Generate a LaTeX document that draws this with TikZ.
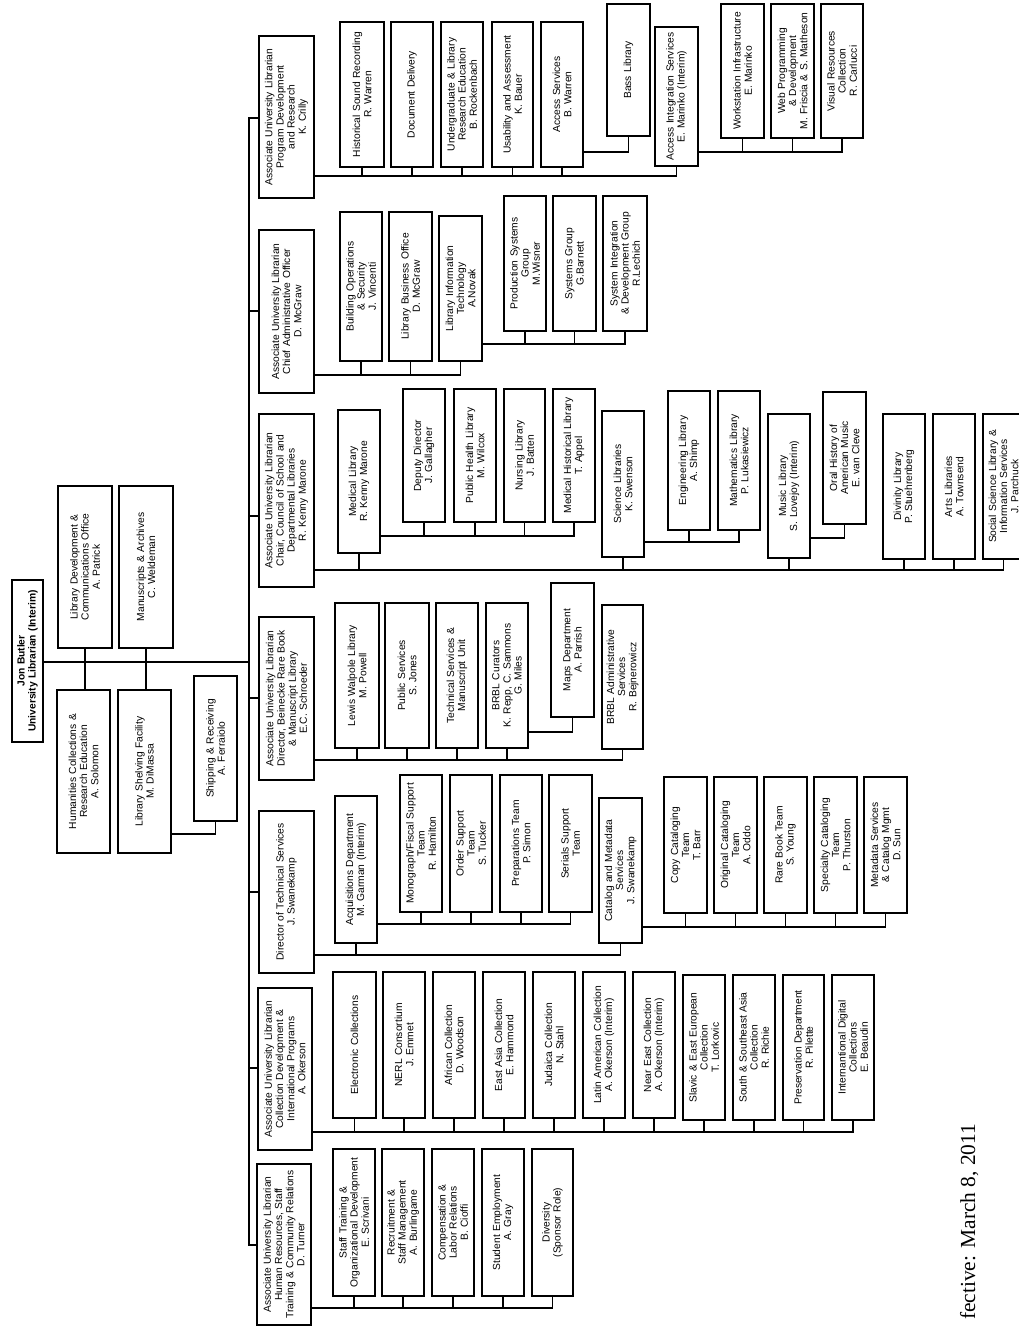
\documentclass[tikz,border=0pt]{standalone}
\usepackage{fontspec}
\setmainfont{Liberation Sans}
\newfontfamily\footserif{Liberation Serif}
\newcommand\bx[6]{%
  \pgfmathsetmacro\bxW{#5-#3}%
  \pgfmathsetmacro\bxH{#4-#2}%
  \pgfmathsetmacro\bxT{#5-#3-6}%
  \pgfmathsetmacro\bxX{(#2+#4)/2}%
  \pgfmathsetmacro\bxY{(#3+#5)/2}%
  \node[box, minimum width=\bxW bp, minimum height=\bxH bp, text width=\bxT bp] (#1) at (\bxX,\bxY) {#6};}
\newcommand\grp[4]{%
  \coordinate (b-#1) at (0,#2);
  \draw[ln] (#1.south |- b-#1) -- (#3.west |- b-#1);
  \foreach \c in {#4} {\draw[ln] (\c.west) -- (\c.west |- b-#1);}}
\newcommand\stub[2]{%
  \coordinate (s-#1) at (249,#2);
  \draw[ln] (s-#1) -- (#1.north |- s-#1);}
\newcommand\elbow[3]{%
  \coordinate (e-#1) at (0,#3);
  \draw[ln] (#1.south |- e-#1) -- (#2.west |- e-#1) -- (#2.west);}
\begin{document}
\begin{tikzpicture}[x=1bp,y=-1bp,
  box/.style={draw=black, line width=1.2bp, rotate=90, inner sep=0pt, align=center,
    font=\fontsize{10.3}{11.2}\selectfont},
  ln/.style={line width=1.2bp, line cap=rect}]
\fill[white] (0,0) rectangle (1018,1327);
\useasboundingbox (0,0) rectangle (1018,1327);

% top level
\bx{jon}{12}{580}{43}{742}{\textbf{Jon Butler}\\\textbf{University Librarian (Interim)}}
\bx{libdev}{58}{486}{112}{648}{Library Development \&\\Communications Office\\A. Patrick}
\bx{manu}{119}{486}{173}{648}{Manuscripts \& Archives\\C. Weldeman}
\bx{hum}{57}{690}{110}{853}{Humanities Collections \&\\Research Education\\A. Solomon}
\bx{shelv}{118}{690}{171}{853}{Library Shelving Facility\\M. DiMassa}
\bx{ship}{194}{676}{237}{821}{Shipping \& Receiving\\A. Ferraiolo}

\coordinate (mainj) at (249,662);
\draw[ln] (jon.south |- mainj) -- (mainj);
\draw[ln] (libdev.west) -- (libdev.west |- hum.east);
\draw[ln] (manu.west) -- (manu.west |- shelv.east);
\elbow{shelv}{ship}{834}

% AUL column
\bx{crilly}{259}{36}{314}{198}{Associate University Librarian\\Program Development\\and Research\\K. Crilly}
\bx{mcgraw}{259}{230}{314}{393}{Associate University Librarian\\Chief Administrative Officer\\D. McGraw}
\bx{km}{259}{414}{314}{587}{Associate University Librarian\\Chair, Council of School and\\Departmental Libraries\\R. Kenny Marone}
\bx{bein}{259}{617}{314}{780}{Associate University Librarian\\Director, Beinecke Rare Book\\\& Manuscript Library\\E.C. Schroeder}
\bx{tech}{259}{811}{314}{973}{Director of Technical Services\\J. Swanekamp}
\bx{coll}{258}{988}{312}{1150}{Associate University Librarian\\Collection Development \&\\International Programs\\A. Okerson}
\bx{hr}{257}{1164}{311}{1325}{Associate University Librarian\\Human Resources, Staff\\Training \& Community Relations\\D. Turner}

\coordinate (trT) at (249,118);
\coordinate (trB) at (249,1245);
\draw[ln] (trT) -- (trB);
\stub{crilly}{118}
\stub{mcgraw}{311}
\stub{km}{516}
\stub{bein}{698}
\stub{tech}{892}
\stub{coll}{1068}
\stub{hr}{1245}

% Crilly group
\bx{hsr}{340}{22}{384}{167}{Historical Sound Recording\\R. Warren}
\bx{doc}{391}{22}{433}{167}{Document Delivery}
\bx{ugr}{441}{22}{483}{167}{Undergraduate \& Library\\Research Education\\B. Rockenbach}
\bx{usa}{492}{22}{533}{167}{Usability and Assessment\\K. Bauer}
\bx{acs}{541}{22}{583}{167}{Access Services\\B. Warren}
\bx{bass}{607}{4}{650}{136}{Bass Library}
\bx{ais}{655}{27}{698}{166}{Access Integration Services\\E. Marinko (Interim)}
\bx{wks}{721}{4}{764}{138}{Workstation Infrastructure\\E. Marinko}
\bx{web}{771}{4}{814}{138}{Web Programming\\\& Development\\M. Friscia \& S. Matheson}
\bx{vis}{821}{4}{863}{138}{Visual Resources\\Collection\\R. Carlucci}
\grp{crilly}{176}{ais}{hsr,doc,ugr,usa,acs,ais}
\elbow{acs}{bass}{152}
\grp{ais}{152}{vis}{wks,web,vis}

% McGraw group
\bx{bos}{340}{212}{382}{361}{Building Operations\\\& Security\\J. Vincenti}
\bx{lbo}{389}{212}{432}{361}{Library Business Office\\D. McGraw}
\bx{lit}{439}{216}{482}{361}{Library Information\\Technology\\A.Novak}
\bx{psg}{504}{196}{546}{331}{Production Systems\\Group\\M.Wisner}
\bx{sgr}{553}{196}{596}{331}{Systems Group\\G.Barnett}
\bx{sid}{603}{196}{647}{331}{System Integration\\\& Development Group\\R.Lechich}
\grp{mcgraw}{375}{lit}{bos,lbo,lit}
\grp{lit}{344}{sid}{psg,sgr,sid}

% Kenny Marone group
\bx{medl}{338}{410}{380}{553}{Medical Library\\R. Kenny Marone}
\bx{dep}{403}{389}{445}{522}{Deputy Director\\J. Gallagher}
\bx{phl}{454}{389}{496}{522}{Public Health Library\\M. Wilcox}
\bx{nur}{504}{389}{545}{522}{Nursing Library\\J. Batten}
\bx{mhl}{553}{389}{595}{522}{Medical Historical Library\\T. Appel}
\bx{sci}{602}{411}{644}{557}{Science Libraries\\K. Swenson}
\bx{eng}{668}{391}{710}{530}{Engineering Library\\A. Shimp}
\bx{math}{718}{391}{760}{530}{Mathematics Library\\P. Lukasiewicz}
\bx{mus}{768}{414}{810}{558}{Music Library\\S. Lovejoy (Interim)}
\bx{oral}{823}{392}{866}{524}{Oral History of\\American Music\\E. van Cleve}
\bx{div}{883}{414}{925}{559}{Divinity Library\\P. Stuehrenberg}
\bx{arts}{933}{414}{975}{559}{Arts Libraries\\A. Townsend}
\bx{soc}{983}{414}{1024}{559}{Social Science Library \&\\Information Services\\J. Parchuck}
\grp{km}{570}{soc}{medl,sci,mus,div,arts,soc}
\grp{medl}{536}{mhl}{dep,phl,nur,mhl}
\grp{sci}{542}{math}{eng,math}
\elbow{mus}{oral}{538}

% Beinecke group
\bx{lwl}{335}{603}{379}{748}{Lewis Walpole Library\\M. Powell}
\bx{pubs}{385}{603}{429}{748}{Public Services\\S. Jones}
\bx{tsm}{436}{603}{478}{748}{Technical Services \&\\Manuscript Unit}
\bx{brblc}{486}{603}{528}{748}{BRBL Curators\\K. Repp, C. Sammons\\G. Miles}
\bx{maps}{551}{583}{594}{717}{Maps Department\\A. Parrish}
\bx{brbla}{602}{605}{643}{749}{BRBL Administrative\\Services\\R. Bejnerowicz}
\grp{bein}{760}{brbla}{lwl,pubs,tsm,brblc,brbla}
\elbow{brblc}{maps}{732}

% Technical services group
\bx{acq}{335}{796}{377}{943}{Acquisitions Department\\M. Garman (Interim)}
\bx{mono}{400}{775}{442}{912}{Monograph/Fiscal Support\\Team\\R. Hamilton}
\bx{ord}{450}{775}{492}{912}{Order Support\\Team\\S. Tucker}
\bx{prep}{500}{775}{542}{912}{Preparations Team\\P. Simon}
\bx{ser}{549}{775}{592}{912}{Serials Support\\Team}
\bx{cat}{599}{798}{642}{943}{Catalog and Metadata\\Services\\J. Swanekamp}
\bx{copy}{664}{777}{707}{913}{Copy Cataloging\\Team\\T. Barr}
\bx{orig}{714}{777}{757}{913}{Original Cataloging\\Team\\A. Oddo}
\bx{rare}{764}{777}{807}{913}{Rare Book Team\\S. Young}
\bx{spec}{814}{777}{857}{913}{Specialty Cataloging\\Team\\P. Thurston}
\bx{meta}{864}{777}{907}{913}{Metadata Services\\\& Catalog Mgmt\\D. Sun}
\grp{tech}{955}{cat}{acq,cat}
\grp{acq}{924}{ser}{mono,ord,prep,ser}
\grp{cat}{927}{meta}{copy,orig,rare,spec,meta}

% Collection development group
\bx{elec}{333}{972}{376}{1118}{Electronic Collections}
\bx{nerl}{383}{972}{425}{1118}{NERL Consortium\\J. Emmet}
\bx{afr}{433}{972}{475}{1118}{African Collection\\D. Woodson}
\bx{eas}{483}{972}{525}{1118}{East Asia Collection\\E. Hammond}
\bx{jud}{533}{972}{575}{1118}{Judaica Collection\\N. Stahl}
\bx{lat}{583}{972}{625}{1118}{Latin American Collection\\A. Okerson (Interim)}
\bx{near}{633}{972}{675}{1118}{Near East Collection\\A. Okerson (Interim)}
\bx{slav}{683}{975}{725}{1120}{Slavic \& East European\\Collection\\T. Lorkovic}
\bx{sse}{733}{975}{775}{1120}{South \& Southeast Asia\\Collection\\R. Richie}
\bx{pres}{783}{975}{824}{1120}{Preservation Department\\R. Pilette}
\bx{intl}{832}{975}{874}{1120}{Internantional Digital\\Collections\\E. Beaudin}
\grp{coll}{1132}{intl}{elec,nerl,afr,eas,jud,lat,near,slav,sse,pres,intl}

% HR group
\bx{stf}{333}{1149}{375}{1296}{Staff Training \&\\Organizational Development\\E. Scrivani}
\bx{rec}{382}{1149}{424}{1296}{Recruitment \&\\Staff Management\\A. Burlingame}
\bx{comp}{432}{1149}{474}{1296}{Compensation \&\\Labor Relations\\B. Cioffi}
\bx{stu}{482}{1149}{524}{1296}{Student Employment\\A. Gray}
\bx{dvs}{532}{1149}{573}{1296}{Diversity\\(Sponsor Role)}
\grp{hr}{1308}{dvs}{stf,rec,comp,stu,dvs}

% footer
\node[rotate=90, anchor=base west, inner sep=0pt, font=\footserif\fontsize{21.5}{24}\selectfont] (foot) at (975,1320) {fective: March 8, 2011};
\end{tikzpicture}
\end{document}
